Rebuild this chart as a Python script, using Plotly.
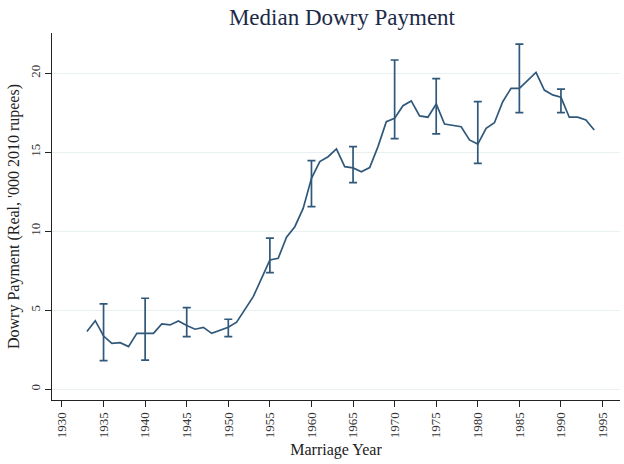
import plotly.graph_objects as go

years = list(range(1933, 1995))
median_dowry = [3.65, 4.34, 3.37, 2.91, 2.95, 2.70, 3.54, 3.54, 3.54, 4.13,
                4.07, 4.32, 4.03, 3.80, 3.92, 3.54, 3.71, 3.92, 4.25, 5.02,
                5.86, 7.02, 8.18, 8.29, 9.62, 10.29, 11.45, 13.35, 14.41, 14.72,
                15.21, 14.09, 14.01, 13.77, 14.03, 15.36, 16.94, 17.15, 17.95, 18.25,
                17.30, 17.22, 18.06, 16.79, 16.69, 16.62, 15.78, 15.52, 16.52, 16.87,
                18.20, 19.05, 19.05, 19.58, 20.06, 18.94, 18.63, 18.48, 17.22, 17.22,
                17.04, 16.41]

ci_years = [1935, 1940, 1945, 1950, 1955, 1960, 1965, 1970, 1975, 1980, 1985, 1990]
ci_upper = [5.40, 5.76, 5.17, 4.43, 9.56, 14.47, 15.36, 20.84, 19.66, 18.20, 21.85, 19.00]
ci_lower = [1.81, 1.85, 3.33, 3.33, 7.38, 11.56, 13.08, 15.86, 16.16, 14.30, 17.51, 17.51]

x_ticks = list(range(1930, 2000, 5))
y_ticks = [0, 5, 10, 15, 20]

title_text = "Median Dowry Payment"
x_title = "Marriage Year"
y_title = "Dowry Payment (Real, '000 2010 rupees)"

line_color = "#30587a"
font_family = "Liberation Serif, DejaVu Serif, serif"

ci_center = [median_dowry[years.index(y)] for y in ci_years]
err_plus = [u - c for u, c in zip(ci_upper, ci_center)]
err_minus = [c - l for l, c in zip(ci_lower, ci_center)]

fig = go.Figure()
fig.add_trace(go.Scatter(
    x=years, y=median_dowry, mode="lines",
    line=dict(color=line_color, width=1.7),
    showlegend=False, hoverinfo="skip"))
fig.add_trace(go.Scatter(
    x=ci_years, y=ci_center, mode="markers",
    marker=dict(size=0.1, color=line_color, opacity=0),
    error_y=dict(type="data", symmetric=False, array=err_plus, arrayminus=err_minus,
                 color=line_color, thickness=1.7, width=4),
    showlegend=False, hoverinfo="skip"))

fig.update_layout(
    width=624, height=464,
    margin=dict(l=52, r=4, t=33, b=64),
    paper_bgcolor="white", plot_bgcolor="white",
    font=dict(family=font_family, color="#222222", size=12),
    title=dict(text=title_text, x=0.548, xanchor="center", y=0.963, yanchor="middle",
               font=dict(size=23, color="#1c2a48", family=font_family)),
    xaxis=dict(
        range=[1928.8, 1997.1], tickmode="array", tickvals=x_ticks,
        ticktext=[str(t) for t in x_ticks], tickangle=-90,
        showgrid=False, zeroline=False, automargin=False,
        showline=True, linecolor="#222222", linewidth=1.2,
        ticks="outside", ticklen=6, tickcolor="#222222",
        tickfont=dict(size=13, color="#333333"),
        title=dict(text=x_title, font=dict(size=16, color="#222222"), standoff=6)),
    yaxis=dict(
        range=[-0.68, 22.55], tickmode="array", tickvals=y_ticks,
        ticktext=[str(t) for t in y_ticks], tickangle=-90,
        showgrid=True, gridcolor="#e8f0f2", gridwidth=1.2, zeroline=False, automargin=False,
        showline=True, linecolor="#222222", linewidth=1.2,
        ticks="outside", ticklen=6, tickcolor="#222222",
        tickfont=dict(size=13, color="#333333"),
        title=dict(text=y_title, font=dict(size=16, color="#222222"), standoff=4)),
)

fig.write_html("out.html", config={"displayModeBar": False},
               post_script="document.body.style.margin='0';")
